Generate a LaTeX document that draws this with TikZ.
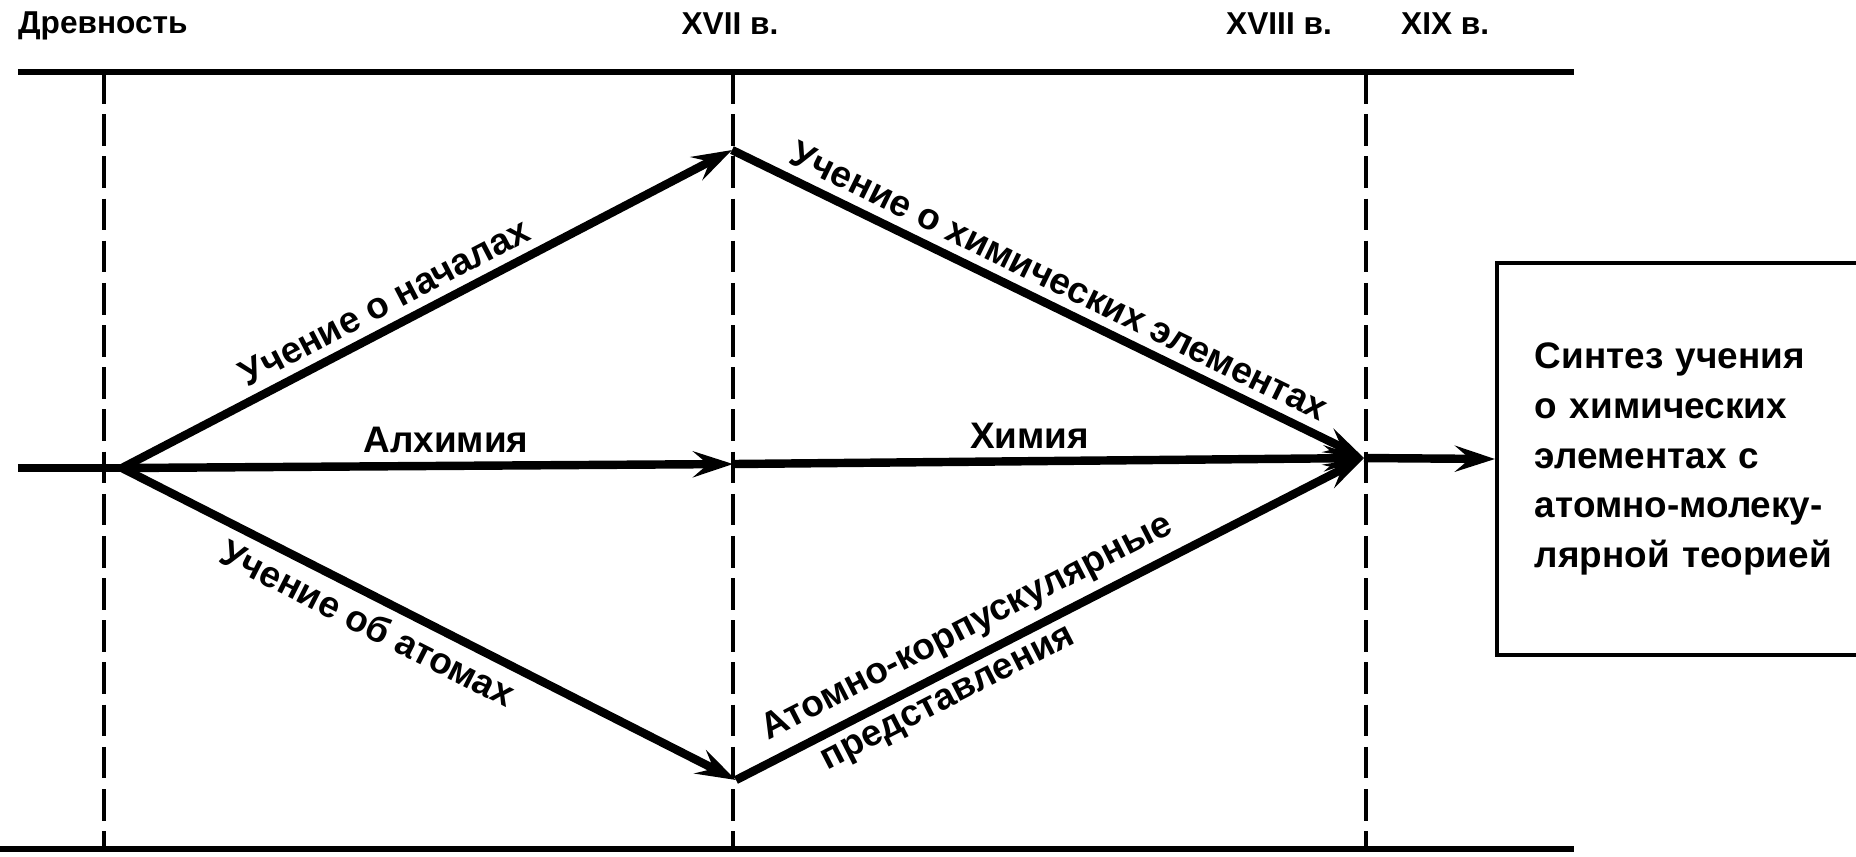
\documentclass[tikz,border=0pt]{standalone}
\usepackage{fontspec}
\setmainfont{Liberation Sans}
\usetikzlibrary{arrows.meta, positioning}
\newcommand{\lblfont}{\fontsize{10.5}{14.2}\selectfont\bfseries}
\newcommand{\erafont}{\fontsize{9}{11}\selectfont\bfseries}

\begin{document}
\begin{tikzpicture}[
    lbl/.style={font=\lblfont, inner sep=2.5pt},
    era/.style={font=\erafont, inner sep=1pt},
    rule/.style={line width=1.8pt},
    period/.style={line width=1.1pt, dash pattern=on 9pt off 3pt},
    flow/.style={line width=2.4pt},
    arr/.style={flow, -{Stealth[length=4mm, width=2.6mm, inset=1.5mm]}},
    synbox/.style={draw, line width=1.1pt, anchor=west, minimum height=3.92cm, text width=4.2cm, inner xsep=0.38cm, align=left, font=\lblfont}]
  \useasboundingbox (0,0) rectangle (18.56,-8.56);
  \clip (0,0) rectangle (18.56,-8.56);
  % time axis
  \node[era, anchor=west] (ancient) at (0.14,-0.26) {Древность};
  \node[era] (c17) at (7.30,-0.24) {XVII в.};
  \node[era, anchor=east] (c18) at (13.36,-0.24) {XVIII в.};
  \node[era, anchor=west] (c19) at (13.97,-0.24) {XIX в.};
  \draw[rule] (0.18,-0.72) -- (15.74,-0.72);
  \draw[rule] (0,-8.49) -- (15.74,-8.49);
  \foreach \x in {1.04, 7.33, 13.66}
    \draw[period] (\x,-0.72) -- (\x,-8.49);
  % branch points
  \coordinate (in) at (0.18,-4.68);
  \coordinate (O) at (1.22,-4.68);
  \coordinate (T) at (7.32,-1.50);
  \coordinate (M) at (7.33,-4.64);
  \coordinate (B) at (7.36,-7.80);
  \coordinate (R) at (13.64,-4.58);
  % result box
  \node[synbox] (synth) at (14.95,-4.59) {Синтез учения\\ о химических\\ элементах с\\ атомно-молеку-\\ лярной теорией};
  % arrows
  \draw[flow] (in) -- (O);
  \draw[arr] (O) -- node[lbl, above, sloped, pos=0.45] {Учение о началах} (T);
  \draw[arr] (O) -- node[lbl, above, pos=0.53] {Алхимия} (M);
  \draw[arr] (O) -- node[lbl, below, sloped, pos=0.42] {Учение об атомах} (B);
  \draw[arr] (T) -- node[lbl, above, sloped, pos=0.5] {Учение о химических элементах} (R);
  \draw[arr] (M) -- node[lbl, above, pos=0.47] {Химия} (R);
  \draw[arr] (B) -- node[lbl, above, sloped, pos=0.39] {Атомно-корпускулярные}
    node[lbl, below, sloped, pos=0.32] {представления} (R);
  \draw[arr] (R) -- (synth.west);
\end{tikzpicture}
\end{document}
